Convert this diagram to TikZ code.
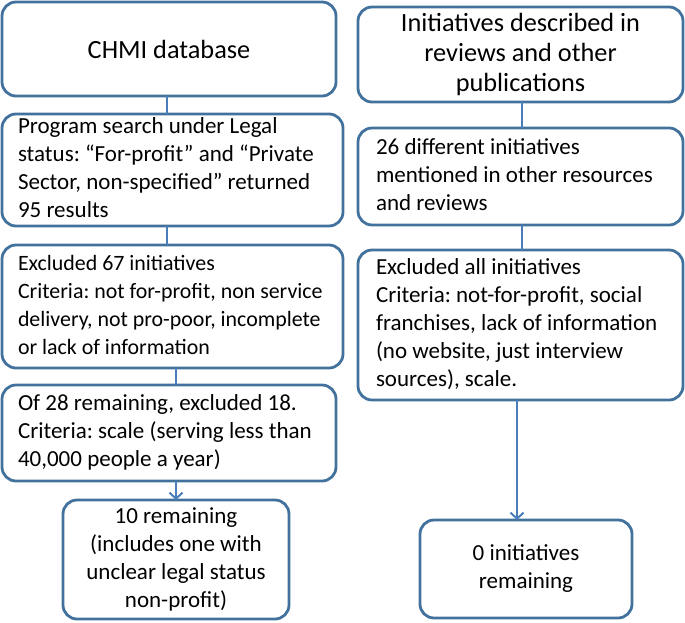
\documentclass[tikz,border=0pt]{standalone}
\usepackage{fontspec}
\setmainfont{Carlito}
\usetikzlibrary{arrows.meta}
\definecolor{boxc}{RGB}{65,113,156}
\definecolor{linec}{RGB}{74,126,187}
\newcommand\txtlines[1]{\begin{tabular}{@{}l@{}}#1\end{tabular}}
\begin{document}
\begin{tikzpicture}[x=1pt,y=-1pt,
  box/.style={draw=boxc, line width=2.8pt, rounded corners=14pt,
    font=\fontsize{23}{28}\selectfont, inner ysep=0pt, outer sep=0pt,
    execute at begin node={\frenchspacing}},
  lbox/.style={box, align=flush left, inner xsep=16pt},
  rbox/.style={box, align=flush left, inner xsep=18pt},
  cbox/.style={box, align=center, inner xsep=4pt},
  head/.style={font=\fontsize{26.3}{30}\selectfont},
  small/.style={font=\fontsize{21.9}{28}\selectfont},
  conn/.style={draw=linec, line width=2pt},
  arr/.style={conn, -{Straight Barb[length=6pt,width=13pt,line width=2pt]}}]
\useasboundingbox (0,0) rectangle (685,622);

\node[cbox, head, minimum width=334pt, minimum height=94pt] (L1) at (169,49) {CHMI database};
\node[lbox, text width=309pt, minimum width=341pt, minimum height=112pt] (L2) at (172.5,170)
  {\txtlines{Program search under Legal\\status: “For-profit” and “Private\\Sector, non-specified” returned\\95 results}};
\node[lbox, small, text width=309pt, minimum width=341pt, minimum height=123pt] (L3) at (172.5,306.5)
  {\txtlines{Excluded 67 initiatives\\Criteria: not for-profit, non service\\delivery, not pro-poor, incomplete\\or lack of information}};
\node[lbox, text width=302pt, minimum width=334pt, minimum height=96pt] (L4) at (169,433)
  {\txtlines{Of 28 remaining, excluded 18.\\Criteria: scale (serving less than\\40,000 people a year)}};
\node[cbox, minimum width=226pt, minimum height=119pt] (L5) at (176,559.5)
  {10 remaining\\(includes one with\\unclear legal status\\non-profit)};

\node[cbox, head, minimum width=325pt, minimum height=95pt] (R1) at (520.5,54.5)
  {Initiatives described in\\reviews and other\\publications};
\node[rbox, text width=289pt, minimum width=325pt, minimum height=97pt] (R2) at (520.5,176.5)
  {\txtlines{26 different initiatives\\mentioned in other resources\\and reviews}};
\node[rbox, text width=289pt, minimum width=325pt, minimum height=150pt] (R3) at (520.5,325)
  {\txtlines{Excluded all initiatives\\Criteria: not-for-profit, social\\franchises, lack of information\\(no website, just interview\\sources), scale.}};
\node[cbox, minimum width=212pt, minimum height=98pt] (R4) at (526,569)
  {0 initiatives\\remaining};

\draw[conn] ([xshift=-2pt]L1.south) -- ([xshift=-2pt]L1.south |- L2.north);
\draw[conn] ([xshift=-5.5pt]L2.south) -- ([xshift=-5.5pt]L2.south |- L3.north);
\draw[conn] ([xshift=3.5pt]L3.south) -- ([xshift=3.5pt]L3.south |- L4.north);
\draw[arr] (L4.south -| L5.north) -- (L5.north);
\draw[conn] ([xshift=1.5pt]R1.south) -- ([xshift=1.5pt]R1.south |- R2.north);
\draw[conn] ([xshift=1.5pt]R2.south) -- ([xshift=1.5pt]R2.south |- R3.north);
\draw[arr] ([xshift=-3.5pt]R3.south) -- ([xshift=-3.5pt]R3.south |- R4.north);
\end{tikzpicture}
\end{document}
